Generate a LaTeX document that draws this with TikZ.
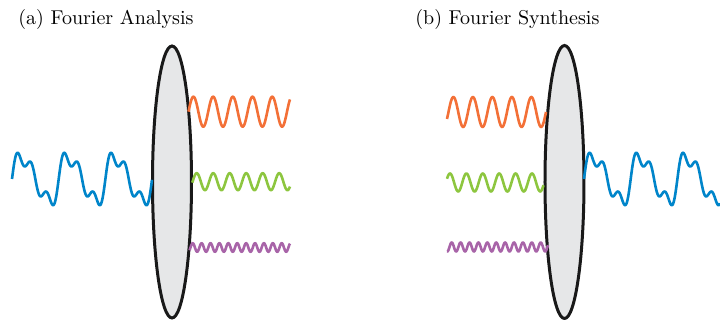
\documentclass[tikz,border=0pt]{standalone}
\definecolor{waveOrange}{RGB}{243,112,55}
\definecolor{waveGreen}{RGB}{141,198,63}
\definecolor{wavePurple}{RGB}{168,100,168}
\definecolor{waveBlue}{RGB}{0,133,202}
\definecolor{lensGray}{RGB}{230,231,232}
\begin{document}
\begin{tikzpicture}[x=0.5pt, y=-0.5pt,
    lens/.style={fill=lensGray, draw=black!90, line width=1.5pt},
    sig/.style={line width=1.3pt, line join=round, smooth}]
  \useasboundingbox (0,0) rectangle (720,320);
  % titles
  \node[anchor=base west, inner sep=0pt] (titleA) at (18,25) {(a) Fourier Analysis};
  \node[anchor=base west, inner sep=0pt] (titleB) at (415,25) {(b) Fourier Synthesis};
  % (a) analysis
  \filldraw[lens] (172,182) ellipse (19.5 and 136);
  \draw[sig, waveBlue] plot[domain=12:152, samples=300]
    (\x, {179 - 22*(sin(360*((\x-12)/46.7)) + 0.2*sin(720*((\x-12)/46.7)) + 0.4*sin(1080*((\x-12)/46.7)))});
  \draw[sig, waveOrange] plot[domain=188.5:290, samples=200] (\x, {111.7 - 15*sin(360*((\x-188.5)/19.7))});
  \draw[sig, waveGreen] plot[domain=192.3:290, samples=200] (\x, {181.7 - 8.5*sin(360*((\x-192.6)/16.5))});
  \draw[sig, wavePurple] plot[domain=189.5:290, samples=250] (\x, {247.5 - 4.3*sin(360*((\x-190.5)/8.9))});
  % (b) synthesis
  \filldraw[lens] (564.5,182) ellipse (19.5 and 136.5);
  \draw[sig, waveOrange] plot[domain=447:546, samples=200] (\x, {112 - 15*sin(360*((\x-546)/19.5))});
  \draw[sig, waveGreen] plot[domain=447:543.5, samples=200] (\x, {182.5 - 9*sin(360*((\x-445.9)/16.4))});
  \draw[sig, wavePurple] plot[domain=447:548, samples=250] (\x, {247 - 4.5*sin(360*((\x-449.5)/8.9))});
  \draw[sig, waveBlue] plot[domain=584:720, samples=300]
    (\x, {179 - 22*(sin(360*((\x-584)/46.7)) + 0.2*sin(720*((\x-584)/46.7)) + 0.4*sin(1080*((\x-584)/46.7)))});
\end{tikzpicture}
\end{document}
